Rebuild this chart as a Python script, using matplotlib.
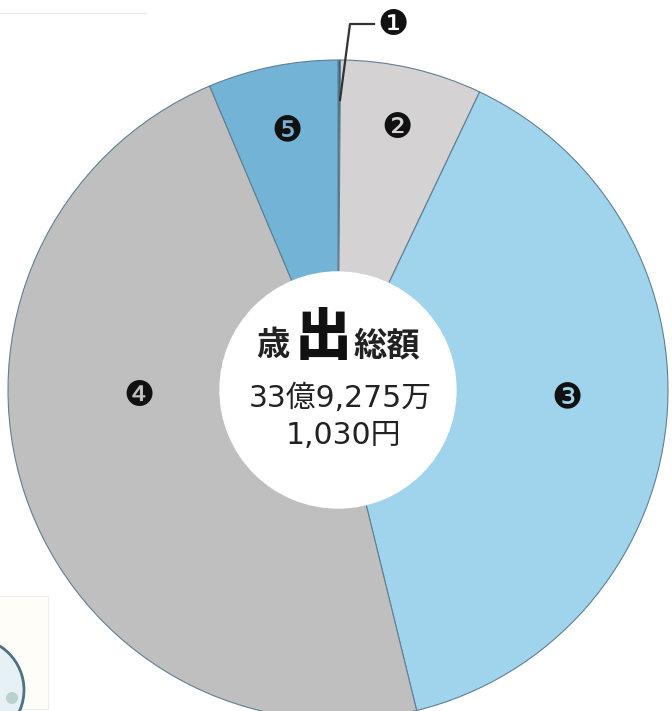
import matplotlib.pyplot as plt
from matplotlib.patches import Circle, Rectangle

# 歳出の内訳 (割合 %, 図から読み取り)
labels = ['❶', '❷', '❸', '❹', '❺']
shares = [0.12, 6.94, 39.11, 47.47, 6.36]
colors = ['#2b5f80', '#d4d2d3', '#a0d4ec', '#c0bfc0', '#73b3d6']

title_parts = ['歳', '出', '総額']
total_line1 = '33億9,275万'
total_line2 = '1,030円'

W, H = 672, 711
fig = plt.figure(figsize=(W / 100, H / 100), dpi=100)
ax = fig.add_axes([0, 0, 1, 1])

cx, cy = 338, H - 390
R = 330
r_in = 118

wedges, _ = ax.pie(shares, colors=colors, startangle=90, counterclock=False,
                   center=(cx, cy), radius=R, frame=True,
                   wedgeprops=dict(width=R - r_in, edgecolor='#5f7f92', linewidth=0.8))
ax.set_xlim(0, W)
ax.set_ylim(0, H)
ax.set_aspect('equal')
ax.axis('off')

# 中央の白い円 (内側の縁線を隠す)
ax.add_patch(Circle((cx, cy), r_in + 0.8, facecolor='white', edgecolor='none', zorder=3))

# 番号ラベル
pos = {'❷': (397, 128), '❸': (567, 398), '❹': (139, 396), '❺': (287, 130)}
for lab, (x, y) in pos.items():
    ax.text(x, H - y, lab, fontsize=25, ha='center', va='center',
            color='#111111', family='DejaVu Sans', zorder=4)

# ❶ は引き出し線
ax.plot([340, 350, 374], [H - 100, H - 24, H - 24], color='#333333', lw=1.6, zorder=4)
ax.text(393, H - 25, '❶', fontsize=25, ha='center', va='center',
        color='#111111', family='DejaVu Sans', zorder=4)

# 中央の文字
jp = ['Noto Sans CJK JP', 'DejaVu Sans']
num = ['DejaVu Sans', 'Noto Sans CJK JP']
ax.text(273, H - 346, title_parts[0], fontsize=24, ha='center', va='center',
        family=jp, color='#222222', fontweight='bold', zorder=4)
ax.text(323, H - 338, title_parts[1], fontsize=41, ha='center', va='center',
        family=jp, color='#111111', fontweight='heavy', zorder=4)
ax.text(387, H - 346, title_parts[2], fontsize=24, ha='center', va='center',
        family=jp, color='#222222', fontweight='bold', zorder=4)
ax.text(340, H - 398, total_line1, fontsize=21.5, ha='center', va='center',
        family=num, color='#222222', zorder=4)
ax.text(343, H - 435, total_line2, fontsize=21.5, ha='center', va='center',
        family=num, color='#222222', zorder=4)

# 端の写り込み
ax.plot([0, 146], [H - 13, H - 13], color='#ececec', lw=1)
ax.add_patch(Rectangle((-2, 2), 50, H - 598, facecolor='#fffdf8',
                       edgecolor='#eeeeee', lw=0.8, zorder=0))
ax.add_patch(Circle((-28, H - 690), 52, facecolor='#e6f1f6',
                    edgecolor='#4d7283', lw=2))
ax.add_patch(Circle((12, H - 698), 6, facecolor='#b9d2d0', edgecolor='none'))

fig.savefig('out.png', dpi=100)
